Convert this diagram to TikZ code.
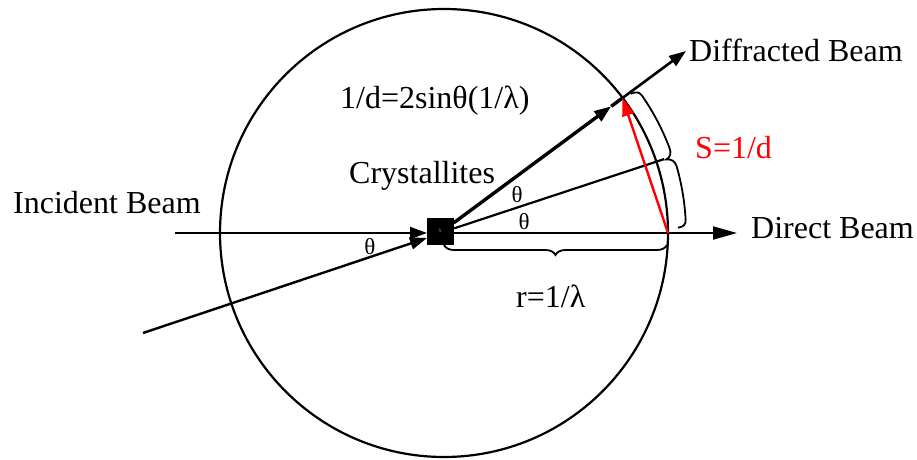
\documentclass[tikz,border=0pt]{standalone}
\usepackage{fontspec}
\setmainfont{Liberation Serif}
\usetikzlibrary{arrows.meta,calc,decorations.pathreplacing}
\begin{document}
\begin{tikzpicture}[x=1pt,y=1pt,
  lbl/.style={font=\fontsize{32}{36}\selectfont, inner sep=0pt, anchor=base west},
  thlbl/.style={font=\fontsize{23}{26}\selectfont, inner sep=0pt},
  tip/.style={-{Triangle[length=17pt,width=12pt]}},
  bigtip/.style={-{Triangle[length=24pt,width=13pt]}},
  beam/.style={line width=2pt},
  bracestyle/.style={line width=1.8pt},
  ]
\useasboundingbox (0,0) rectangle (917,459);
\coordinate (C) at (444,226);
\coordinate (O) at (440,226);
% Ewald sphere
\draw[line width=2.2pt] (C) circle[radius=224];
% crystallites
\node[fill=black, minimum size=27pt, inner sep=0pt] (crys) at (440,228) {};
\node[font=\fontsize{7}{7}\selectfont, text=gray, inner sep=0pt] (crysmark) at (crys) {x};
% coordinates
\coordinate (inA) at (175,226);
\coordinate (inAend) at (427,226);
\coordinate (inB) at (143,126);
\coordinate (inBend) at (427,221);
\coordinate (dStart) at (453.5,226);
\coordinate (dEnd) at (737,226);
\coordinate (D) at (668,226);
\coordinate (gStart) at ($(O)+(36.5:17)$);
\coordinate (M) at ($(O)+(36.5:213)$);
\coordinate (P) at ($(O)+(36.5:227)$);
\coordinate (gEnd) at ($(O)+(36.5:306)$);
\coordinate (bStart) at ($(O)+(18.25:15)$);
\coordinate (bEnd) at ($(O)+(18.25:236)$);
% incident beams
\draw[beam, tip] (inA) -- (inAend);
\draw[line width=2.4pt, tip] (inB) -- (inBend);
% direct beam
\draw[beam, bigtip] (dStart) -- (dEnd);
% diffracted beam
\draw[line width=3.4pt, tip] (gStart) -- (M);
\draw[line width=3.4pt] (M) -- (P);
\draw[line width=2.6pt, tip] (P) -- (gEnd);
% bisector
\draw[line width=2.2pt] (bStart) -- (bEnd);
% scattering vector
\draw[red, line width=2.4pt, -{Triangle[length=18pt,width=12pt]}] (D) -- (P);
% curved brace along the arc
\begin{scope}[shift={(C)}]
\draw[bracestyle] (36.7:233) .. controls (36.4:238) and (35.9:241) .. (34.8:241)
  arc[start angle=34.8, end angle=20.6, radius=241]
  .. controls (19.4:241) and (18.5:239) .. (18.3:234)
  .. controls (18.1:239) and (17.3:242) .. (16.0:242)
  arc[start angle=16.0, end angle=3.2, radius=242]
  .. controls (2.0:242) and (1.5:240) .. (1.3:234);
\end{scope}
% bottom brace
\draw[bracestyle, decorate, decoration={brace, amplitude=10pt, mirror}] (444,214) -- (667,214);
% labels
\node[lbl] (tInc) at (13,246) {Incident Beam};
\node[lbl] (tDif) at (689,397) {Diffracted Beam};
\node[lbl] (tForm) at (340,351) {1/d=2sinθ(1/λ)};
\node[lbl, text=red] (tS) at (695,301) {S=1/d};
\node[lbl] (tCry) at (349,276) {Crystallites};
\node[lbl] (tDir) at (751,221) {Direct Beam};
\node[lbl] (tR) at (516,152) {r=1/λ};
\node[thlbl] (th1) at (370,212) {θ};
\node[thlbl] (th2) at (517,264) {θ};
\node[thlbl] (th3) at (524,237) {θ};
\end{tikzpicture}
\end{document}
